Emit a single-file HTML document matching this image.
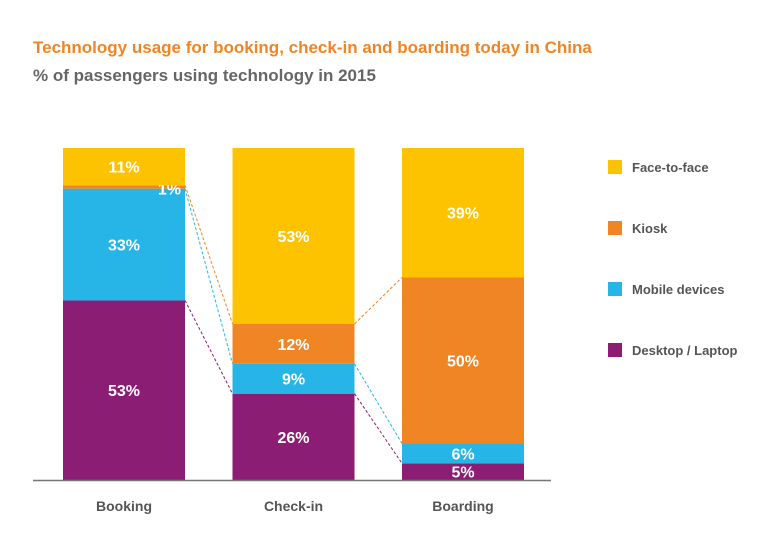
<!DOCTYPE html>
<html><head><meta charset="utf-8"><style>
body{margin:0;background:#fff;}
svg{display:block;font-family:"Liberation Sans",sans-serif;}
</style></head><body>
<svg width="781" height="541">
<text x="33" y="53" fill="#F08526" font-size="17" font-weight="bold">Technology usage for booking, check-in and boarding today in China</text>
<text x="33" y="81" fill="#666" font-size="17" font-weight="bold">% of passengers using technology in 2015</text>
<g id="plot"></g>
<line x1="33" y1="480.5" x2="551" y2="480.5" stroke="#777" stroke-width="1.5"/>
<g id="legend"></g>
</svg>
<script>
const categories=["Booking","Check-in","Boarding"];
const seriesNames=["Desktop / Laptop","Mobile devices","Kiosk","Face-to-face"];
const desktop=[53,26,5];
const mobile=[33,9,6];
const kiosk=[1,12,50];
const face=[11,53,39];
const colors=["#8B1E74","#27B5E8","#F08526","#FDC300"];
const series=[desktop,mobile,kiosk,face];
const NS="http://www.w3.org/2000/svg";
const plot=document.getElementById('plot');
const baseY=480,topY=148,barW=122;
const barX=i=>63+i*169.5;
function mk(tag,attrs,parent){const e=document.createElementNS(NS,tag);for(const k in attrs)e.setAttribute(k,attrs[k]);parent.appendChild(e);return e;}
const tops=[];
categories.forEach((c,i)=>{
  const sum=series.reduce((a,s)=>a+s[i],0);
  const yScale=v=>(baseY-topY)*v/sum;
  let y=baseY;tops.push([]);
  series.forEach((s,j)=>{
    const h=yScale(s[i]);
    const r=mk('rect',{x:barX(i),y:y-h,width:barW,height:h,fill:colors[j]},plot);
    
    
    tops[i].push(y-h);
    const cy=s[i]<=2?y-h+3:(s[i]<=6?y-h/2:y-h/2);
    const t=mk('text',{x:s[i]<=2?barX(i)+barW-4:barX(i)+barW/2,y:cy+6,'text-anchor':s[i]<=2?'end':'middle',fill:'#fff','font-size':16,'font-weight':'bold'},plot);
    t.textContent=s[i]+'%';
    
    
    y-=h;
  });
  const lt=mk('text',{x:barX(i)+barW/2,y:511,'text-anchor':'middle',fill:'#555','font-size':14,'font-weight':'bold'},plot);
  lt.textContent=c;
  
  
});
for(let i=0;i<categories.length-1;i++){
  for(let j=0;j<3;j++){
    const l=mk('line',{x1:barX(i)+barW,y1:tops[i][j],x2:barX(i+1),y2:tops[i+1][j],stroke:colors[j],'stroke-width':1,'stroke-dasharray':'3,2'},plot);
    
    
  }
}
const leg=document.getElementById('legend');
const legOrder=[3,2,1,0];
legOrder.forEach((j,k)=>{
  const y=160+k*61;
  const r=mk('rect',{x:608,y:y,width:14,height:14,fill:colors[j]},leg);
  
  
  const t=mk('text',{x:632,y:y+12,fill:'#555','font-size':13,'font-weight':'bold'},leg);
  t.textContent=seriesNames[j]==="Face-to-face"?"Face-to-face":seriesNames[j];
  
  
});
</script>
</body></html>
